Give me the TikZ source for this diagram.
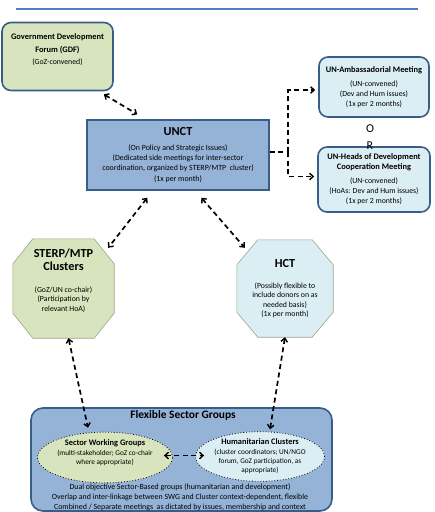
\documentclass[tikz,border=0pt]{standalone}
\usepackage{fontspec}
\setmainfont{Carlito}
\usetikzlibrary{arrows.meta,calc,shapes.geometric,backgrounds}
\definecolor{gfill}{HTML}{D7E4BD}
\definecolor{bfill}{HTML}{DBEEF4}
\definecolor{ufill}{HTML}{95B3D7}
\definecolor{bord}{HTML}{385D8A}
\definecolor{topblue}{HTML}{4F81BD}
\definecolor{octline}{HTML}{9AA58A}
\newcommand{\ttlA}[1]{{\bfseries\fontsize{8.4}{12}\selectfont #1}}
\newcommand{\ttlB}[1]{{\bfseries\fontsize{12.3}{13}\selectfont #1}}
\begin{document}
\begin{tikzpicture}[x=1pt,y=-1pt,
  box/.style={draw=bord,line width=1.6pt,rounded corners=9pt,align=center,inner sep=1pt,
    font=\fontsize{7.8}{10}\selectfont},
  sqbox/.style={draw=bord,line width=1.4pt,align=center,inner sep=1pt,
    font=\fontsize{7.9}{10.3}\selectfont},
  octnode/.style={align=center,inner sep=0pt,font=\fontsize{7.8}{9.3}\selectfont},
  oct/.style={draw=octline,line width=0.6pt},
  ell/.style={ellipse,draw=black,dotted,line width=0.8pt,align=center,inner sep=0pt,
    font=\fontsize{7.3}{9}\selectfont},
  conn/.style={draw=black,line width=1.7pt,dash pattern=on 5pt off 3.5pt,
    arrows={-{Straight Barb[length=3.6pt,width=6.5pt,line width=1.4pt]}}},
  dconn/.style={conn,arrows={{Straight Barb[length=3.6pt,width=6.5pt,line width=1.4pt]}-{Straight Barb[length=3.6pt,width=6.5pt,line width=1.4pt]}}},
  plain/.style={inner sep=0pt,align=center}
]
\useasboundingbox (0,0) rectangle (435,512);

% top rule
\coordinate (tl) at (16,9);
\coordinate (tr) at (418,9);
\draw[topblue,line width=2.8pt] (tl) -- (tr);

% GDF
\node[box,fill=gfill,minimum width=111pt,minimum height=68pt] (gdf) at (57.5,56.5)
  {\ttlA{Government Development}\\[3pt]\ttlA{Forum (GDF)}\\[2pt](GoZ-convened)\\[4pt]};

% UN Ambassadorial
\node[box,fill=bfill,minimum width=110pt,minimum height=60pt] (amb) at (374,87)
  {\ttlA{UN-Ambassadorial Meeting}\\[4pt](UN-convened)\\(Dev and Hum issues)\\(1x per 2 months)};

% UN Heads
\node[box,fill=bfill,minimum width=112pt,minimum height=65pt] (heads) at (374,179.5)
  {\ttlA{UN-Heads of Development}\\\ttlA{Cooperation Meeting}\\[4pt](UN-convened)\\(HoAs: Dev and Hum issues)\\(1x per 2 months)};

% OR
\node[plain,font=\fontsize{12}{17}\selectfont] (or) at (370,137.5) {O\\R};

% UNCT
\node[sqbox,fill=ufill,minimum width=182pt,minimum height=70pt] (unct) at (178,155)
  {\ttlB{UNCT}\\[4pt](On Policy and Strategic Issues)\\(Dedicated side meetings for inter-sector\\coordination, organized by STERP/MTP\ \ cluster)\\(1x per month)};

% STERP octagon
\node[octnode,minimum width=101pt,minimum height=99pt] (sterp) at (63.5,288.5)
  {\ttlB{STERP/MTP}\\[4pt]\ttlB{Clusters}\\[13pt](GoZ/UN co-chair)\\(Participation by\\relevant HoA)\\[8pt]};
% HCT octagon
\node[octnode,minimum width=96pt,minimum height=97pt] (hct) at (285,288.5)
  {\ttlB{HCT}\\[12pt](Possibly flexible to\\include donors on as\\needed basis)\\(1x per month)};

\begin{scope}[on background layer]
\filldraw[oct,fill=gfill]
  ($(sterp.north west)+(20,0)$) -- ($(sterp.north east)+(-20,0)$) --
  ($(sterp.north east)+(0,25)$) -- ($(sterp.south east)+(0,-25)$) --
  ($(sterp.south east)+(-20,0)$) -- ($(sterp.south west)+(20,0)$) --
  ($(sterp.south west)+(0,-25)$) -- ($(sterp.north west)+(0,25)$) -- cycle;
\filldraw[oct,fill=bfill]
  ($(hct.north west)+(21,0)$) -- ($(hct.north east)+(-21,0)$) --
  ($(hct.north east)+(0,25)$) -- ($(hct.south east)+(0,-25)$) --
  ($(hct.south east)+(-21,0)$) -- ($(hct.south west)+(21,0)$) --
  ($(hct.south west)+(0,-25)$) -- ($(hct.north west)+(0,25)$) -- cycle;
\end{scope}

% Flexible Sector Groups
\node[box,fill=ufill,minimum width=301pt,minimum height=103pt,rounded corners=12pt] (fsg) at (181.5,459.5) {};
\node[plain,font=\bfseries\fontsize{11.4}{12}\selectfont] (fsgtitle) at (183,415) {Flexible Sector Groups};
\node[ell,fill=gfill,minimum width=124pt,minimum height=41pt] (swg) at (105,457.5)
  {\ttlA{Sector Working Groups}\\[1pt](multi-stakeholder; GoZ co-chair\\where appropriate)\\[2pt]};
\node[ell,fill=bfill,minimum width=122pt,minimum height=43pt] (hc) at (260,456.5)
  {\ttlA{Humanitarian Clusters}\\[1pt](cluster coordinators; UN/NGO\\forum, GoZ participation, as\\appropriate)};
\node[plain,font=\fontsize{7.9}{10}\selectfont] (fsgtext) at (180,497)
  {Dual objective Sector-Based groups (humanitarian and development)\\Overlap and inter-linkage between SWG and Cluster context-dependent, flexible\\Combined / Separate meetings\ \ as dictated by issues, membership and context};

% connectors
\draw[dconn] ($(gdf.south east)+(-10,3)$) -- ($(unct.north west)+(51,-5)$);
\coordinate (junc) at (288,152);
\draw[conn,arrows=-] ($(unct.east)+(0,-3)$) -- (junc);
\draw[conn] (junc) |- ($(amb.west)+(-3,3)$);
\draw[conn] (junc) |- ($(heads.west)+(-3,-3)$);
\draw[dconn] ($(unct.south west)+(61,7)$) -- ($(sterp.north east)+(-6,9)$);
\draw[dconn] ($(unct.south west)+(115,7)$) -- ($(hct.north west)+(8,8)$);
\draw[dconn] ($(sterp.south)+(5,0)$) -- ($(swg.north)+(-17,-4)$);
\draw[dconn] ($(hct.south)+(0,0)$) -- ($(hc.north)+(10,-2)$);
\draw[dconn] ($(swg.east)+(-9,-2)$) -- ($(hc.west)+(9,-1)$);
\end{tikzpicture}
\end{document}
